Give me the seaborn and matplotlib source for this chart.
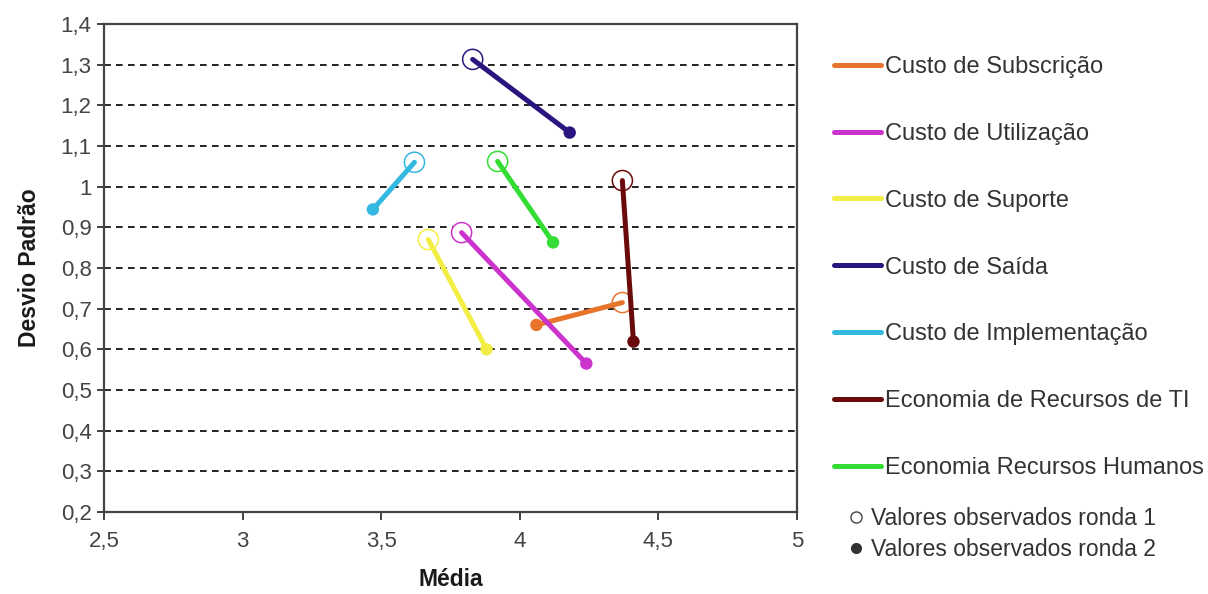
import matplotlib
matplotlib.use("Agg")
import matplotlib.pyplot as plt
from matplotlib.lines import Line2D
from matplotlib.ticker import FuncFormatter, MultipleLocator
import seaborn as sns
import pandas as pd

# ---- data ----
series = ["Custo de Subscrição", "Custo de Utilização", "Custo de Suporte",
          "Custo de Saída", "Custo de Implementação",
          "Economia de Recursos de TI", "Economia Recursos Humanos"]
media_r1 = [4.37, 3.79, 3.67, 3.83, 3.62, 4.37, 3.92]
desvio_r1 = [0.715, 0.887, 0.870, 1.313, 1.060, 1.015, 1.062]
media_r2 = [4.06, 4.24, 3.88, 4.18, 3.47, 4.41, 4.12]
desvio_r2 = [0.660, 0.565, 0.600, 1.133, 0.944, 0.619, 0.863]
colors = ["#E8732A", "#CC33CC", "#F2EE45", "#2A1580", "#33B8E0", "#6A0A0A", "#33DD33"]
round_labels = ["Valores observados ronda 1", "Valores observados ronda 2"]

rows = []
for i, s in enumerate(series):
    rows.append({"serie": s, "ronda": 1, "media": media_r1[i], "desvio": desvio_r1[i]})
    rows.append({"serie": s, "ronda": 2, "media": media_r2[i], "desvio": desvio_r2[i]})
df = pd.DataFrame(rows)
palette = dict(zip(series, colors))

sns.set_theme(style="white")
plt.rcParams["font.family"] = ["Liberation Sans", "DejaVu Sans"]

fig = plt.figure(figsize=(12.08, 5.94), dpi=100)
ax = fig.add_axes([104 / 1208, 1 - 512 / 594, (797 - 104) / 1208, (512 - 24) / 594])

# open markers (round 1) behind lines
r1 = df[df.ronda == 1]
ax.scatter(r1.media, r1.desvio, s=210, facecolors="white",
           edgecolors=[palette[s] for s in r1.serie], linewidths=1.1, zorder=2)

sns.lineplot(data=df, x="media", y="desvio", hue="serie", palette=palette,
             units="serie", estimator=None, sort=False, linewidth=3.6,
             legend=False, ax=ax, zorder=3)

r2 = df[df.ronda == 2]
sns.scatterplot(data=r2, x="media", y="desvio", hue="serie", palette=palette,
                s=80, edgecolor="none", legend=False, ax=ax, zorder=4)

ax.set_xlim(2.5, 5)
ax.set_ylim(0.2, 1.4)
ax.xaxis.set_major_locator(MultipleLocator(0.5))
ax.yaxis.set_major_locator(MultipleLocator(0.1))
fmt = FuncFormatter(lambda v, p: f"{round(v, 2):g}".replace(".", ","))
ax.xaxis.set_major_formatter(fmt)
ax.yaxis.set_major_formatter(fmt)

ax.yaxis.grid(True, color="black", linestyle=(0, (4, 3.2)), linewidth=1.2)
ax.xaxis.grid(False)
for sp in ax.spines.values():
    sp.set_color("#444444")
    sp.set_linewidth(1.6)
    sp.set_visible(True)

ax.tick_params(axis="y", direction="inout", length=10, width=1.3, color="#333333",
               labelsize=16, labelcolor="#444444", pad=4, left=True)
ax.tick_params(axis="x", direction="out", length=6, width=1.3, color="#333333",
               labelsize=16, labelcolor="#444444", pad=8, bottom=True)

ax.set_xlabel("Média", fontsize=16.5, fontweight="bold", color="#1a1a1a", labelpad=11)
ax.set_ylabel("Desvio Padrão", fontsize=16.5, fontweight="bold", color="#1a1a1a", labelpad=14)

# legend of series
handles = [Line2D([0], [0], color=c, lw=3.6) for c in colors]
leg1 = fig.legend(handles, series, loc="upper left",
                  bbox_to_anchor=(834 / 1208, 1 - 56 / 594), frameon=False,
                  fontsize=17, handlelength=2.0, handletextpad=0.15,
                  labelspacing=1.9, borderaxespad=0, borderpad=0)
for t in leg1.get_texts():
    t.set_color("#333333")

# legend of rounds
mh = [Line2D([0], [0], marker="o", color="none", markerfacecolor="white",
             markeredgecolor="#444444", markersize=8, markeredgewidth=1),
      Line2D([0], [0], marker="o", color="none", markerfacecolor="#333333",
             markeredgecolor="#333333", markersize=7)]
leg2 = fig.legend(mh, round_labels, loc="upper left",
                  bbox_to_anchor=(846 / 1208, 1 - 507 / 594), frameon=False,
                  fontsize=16.5, handlelength=0.9, handletextpad=0.2,
                  labelspacing=0.33, borderaxespad=0, borderpad=0)
for t in leg2.get_texts():
    t.set_color("#333333")

fig.savefig("out.png", dpi=100, facecolor="white")
